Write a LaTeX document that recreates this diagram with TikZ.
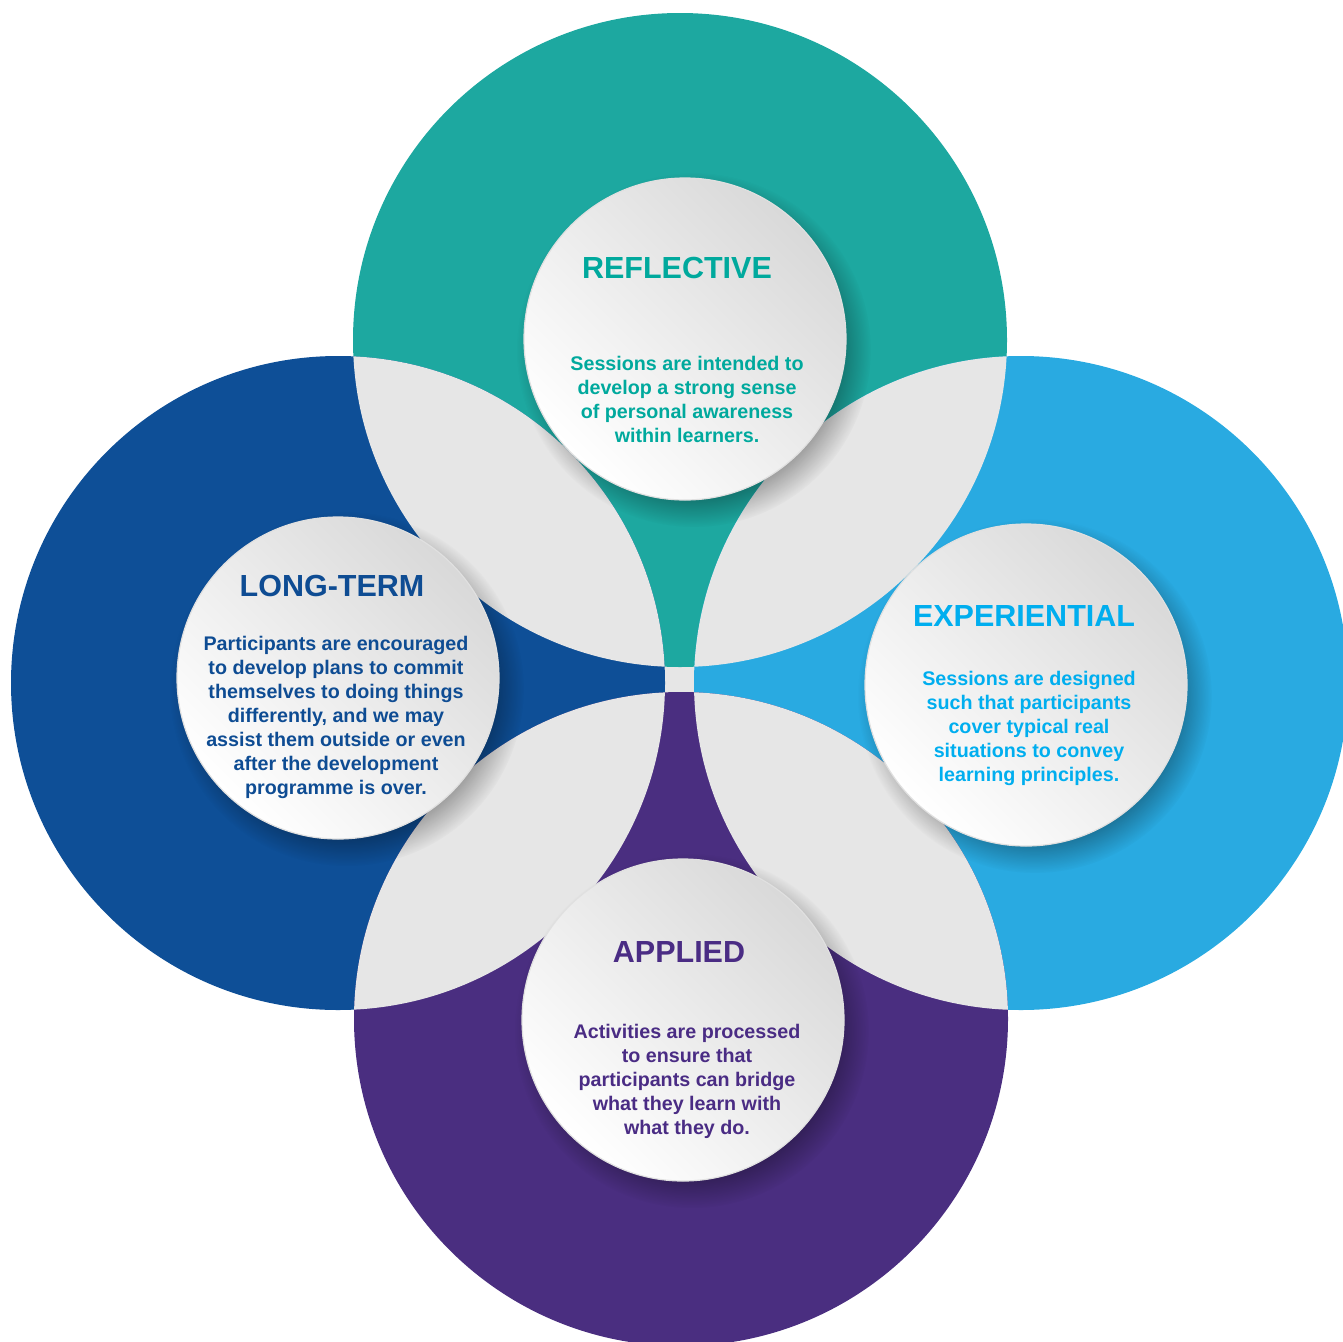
\documentclass[tikz,border=0pt]{standalone}
\usepackage{fontspec}
\setmainfont{Liberation Sans}
\usetikzlibrary{shadows,fadings}

\definecolor{cteal}{HTML}{1DA8A0}
\definecolor{cnavy}{HTML}{0E4F97}
\definecolor{csky}{HTML}{29AAE1}
\definecolor{cpurple}{HTML}{4A2E80}
\definecolor{tteal}{HTML}{00A99D}
\definecolor{tnavy}{HTML}{0E4C93}
\definecolor{tsky}{HTML}{00AEEF}
\definecolor{tpurple}{HTML}{4A2C84}
\definecolor{lensgray}{HTML}{E6E6E6}

\begin{document}
\begin{tikzpicture}[x=1pt,y=-1pt,
  disc/.style={circle, minimum size=322pt, inner sep=0pt, draw=black!12, line width=1.2pt,
    top color=black!15, bottom color=white, shading angle=-45,
    circular drop shadow={shadow xshift=8pt, shadow yshift=-10pt, shadow scale=1.10,
      opacity=0.35, fill=black, path fading=circle with fuzzy edge 20 percent}},
  head/.style={anchor=base, inner sep=0pt, font=\fontsize{30.5}{36}\selectfont\bfseries},
  body/.style={anchor=north, inner sep=0pt, align=center, font=\fontsize{19.7}{24}\selectfont\bfseries},
]
\useasboundingbox (0,0) rectangle (1343,1341);
\clip (0,0) rectangle (1343,1341);

\coordinate (cT) at (680,340);
\coordinate (cL) at (338,683);
\coordinate (cR) at (1021,683);
\coordinate (cB) at (681,1019);

% centre gap
\fill[lensgray] (655,657) rectangle (705,702);

% big circles
\fill[cteal] (cT) circle[radius=327];
\fill[cnavy] (cL) circle[radius=327];
\fill[csky] (cR) circle[radius=327];
\fill[cpurple] (cB) circle[radius=327];

% overlaps
\begin{scope}
  \clip (cT) circle[radius=327];
  \fill[lensgray] (cL) circle[radius=327];
  \fill[lensgray] (cR) circle[radius=327];
\end{scope}
\begin{scope}
  \clip (cB) circle[radius=327];
  \fill[lensgray] (cL) circle[radius=327];
  \fill[lensgray] (cR) circle[radius=327];
\end{scope}

% discs
\node[disc] (dT) at (685,339) {};
\node[disc] (dL) at (338,678) {};
\node[disc] (dR) at (1026,685) {};
\node[disc] (dB) at (683,1020) {};

% texts
\node[head, text=tteal] (hT) at (677,278) {REFLECTIVE};
\node[body, text=tteal] (bT) at (687,355.7) {Sessions are intended to\\develop a strong sense\\of personal awareness\\within learners.};

\node[head, text=tnavy] (hL) at (332,596) {LONG-TERM};
\node[body, text=tnavy] (bL) at (336,635.7) {Participants are encouraged\\to develop plans to commit\\themselves to doing things\\differently, and we may\\assist them outside or even\\after the development\\programme is over.};

\node[head, text=tsky] (hR) at (1024,626) {EXPERIENTIAL};
\node[body, text=tsky] (bR) at (1029,670.7) {Sessions are designed\\such that participants\\cover typical real\\situations to convey\\learning principles.};

\node[head, text=tpurple] (hB) at (679,962) {APPLIED};
\node[body, text=tpurple] (bB) at (687,1023.7) {Activities are processed\\to ensure that\\participants can bridge\\what they learn with\\what they do.};
\end{tikzpicture}
\end{document}
